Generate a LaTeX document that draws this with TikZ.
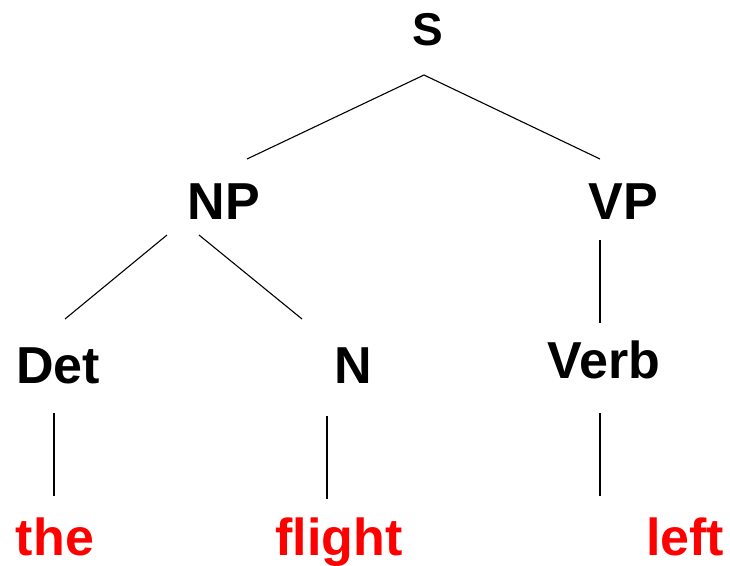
\documentclass[tikz,border=0pt]{standalone}
\usepackage{fontspec}
\setmainfont{Liberation Sans}
\begin{document}
\begin{tikzpicture}[x=1pt,y=-1pt,
  cat/.style={anchor=base,inner sep=0pt,font=\fontsize{52}{56}\selectfont\bfseries},
  topcat/.style={cat,font=\fontsize{46}{50}\selectfont\bfseries},
  word/.style={anchor=base,inner sep=0pt,text=red,font=\fontsize{52}{56}\selectfont\bfseries},
  branch/.style={draw=black,line width=1.1pt}]
  \useasboundingbox (0,0) rectangle (730,565);

  % category labels
  \node[topcat] (S) at (428,45) {S};
  \node[cat] (NP) at (224,219) {NP};
  \node[cat] (VP) at (623,219) {VP};
  \node[cat] (Det) at (58,383) {Det};
  \node[cat] (N) at (353,383) {N};
  \node[cat] (Verb) at (604,378) {Verb};

  % leaf words
  \node[word] (the) at (55,555) {the};
  \node[word] (flight) at (339,555) {flight};
  \node[word] (left) at (685,555) {left};

  % branch end points
  \coordinate (s-top) at (424,75);
  \coordinate (np-top) at (247,159);
  \coordinate (vp-top) at (600,159);
  \coordinate (np-l) at (167,235);
  \coordinate (det-top) at (65,319);
  \coordinate (np-r) at (199,235);
  \coordinate (n-top) at (302,319);
  \coordinate (vp-bot) at (600,240);
  \coordinate (verb-top) at (600,323);
  \coordinate (det-bot) at (54,413);
  \coordinate (the-top) at (54,496);
  \coordinate (n-bot) at (327,416);
  \coordinate (flight-top) at (327,499);
  \coordinate (verb-bot) at (600,413);
  \coordinate (left-top) at (600,496);

  % branches
  \draw[branch] (np-top) -- (s-top) -- (vp-top);
  \draw[branch] (np-l) -- (det-top);
  \draw[branch] (np-r) -- (n-top);
  \draw[branch] (vp-bot) -- (verb-top);
  \draw[branch] (det-bot) -- (the-top);
  \draw[branch] (n-bot) -- (flight-top);
  \draw[branch] (verb-bot) -- (left-top);
\end{tikzpicture}
\end{document}
